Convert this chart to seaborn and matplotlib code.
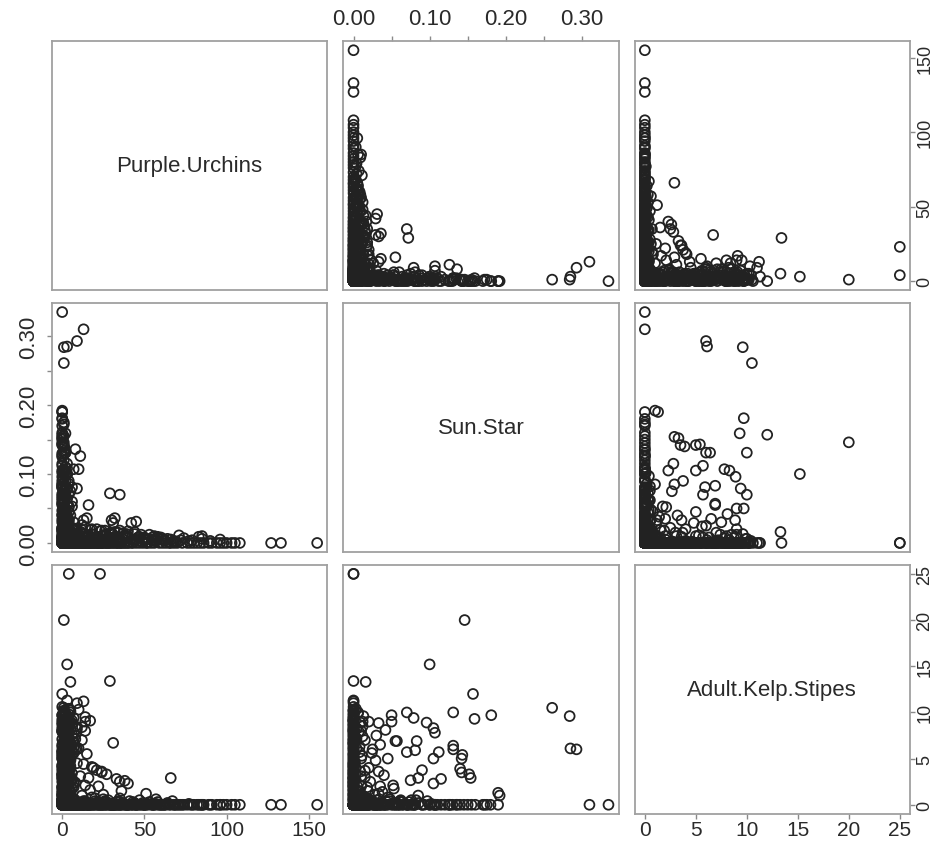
import pandas as pd
import matplotlib
matplotlib.use('Agg')
import matplotlib.pyplot as plt
import seaborn as sns

variables = ['Purple.Urchins', 'Sun.Star', 'Adult.Kelp.Stipes']

# quadrats with no sun stars and no kelp
bare_urchins = [0, 0, 0, 0, 0, 0, 1, 1, 1, 2, 2, 3, 3, 4, 5, 6, 7, 8, 9, 10,
                11, 13, 14, 16, 17, 19, 21, 22, 24, 26, 27, 29, 31, 33, 34, 36, 38, 40, 42, 43,
                45, 47, 49, 52, 54, 56, 59, 61, 63, 65, 68, 70, 73, 76, 78, 80, 82, 84, 86, 89,
                91, 94, 96, 98, 100, 103, 105, 108, 127, 133, 155]

# trace sun stars, no kelp
trace_urchins = [2, 5, 9, 13, 16, 22, 27, 31, 36, 40, 45, 50, 56, 62, 68, 74, 79, 85, 90, 96,
                 1, 4, 7, 11, 19, 24, 34, 44, 58, 71]
trace_sunstar = [0.010, 0.006, 0.012, 0.004, 0.009, 0.005, 0.011, 0.007, 0.003, 0.008,
                 0.006, 0.004, 0.010, 0.005, 0.003, 0.007, 0.004, 0.006, 0.003, 0.005,
                 0.014, 0.017, 0.013, 0.016, 0.012, 0.018, 0.015, 0.013, 0.009, 0.011]

# sun stars, no kelp
star_urchins = [0, 1, 0, 2, 1, 0, 3, 0, 1, 2,
                0, 1, 0, 2, 1, 0, 0, 1, 0, 2,
                0, 1, 0, 0, 1, 0, 0, 1, 0, 0,
                1, 0, 0, 5, 8, 10, 12, 15, 18, 20,
                25, 30, 35, 40, 45, 50, 55, 60, 85, 31,
                32, 15, 16, 29, 35, 9, 8, 11, 10, 4,
                6, 3, 5, 7, 42, 39, 83, 30, 29, 13,
                6, 7, 0, 13, 0, 2, 1]
star_sunstar = [0.005, 0.010, 0.015, 0.020, 0.025, 0.030, 0.035, 0.040, 0.045, 0.050,
                0.055, 0.060, 0.065, 0.070, 0.075, 0.080, 0.090, 0.100, 0.105, 0.110,
                0.115, 0.120, 0.125, 0.130, 0.140, 0.145, 0.150, 0.155, 0.160, 0.170,
                0.175, 0.180, 0.190, 0.010, 0.020, 0.005, 0.015, 0.010, 0.020, 0.005,
                0.010, 0.015, 0.005, 0.017, 0.031, 0.008, 0.005, 0.006, 0.010, 0.029,
                0.036, 0.036, 0.055, 0.072, 0.070, 0.079, 0.136, 0.126, 0.107, 0.090,
                0.060, 0.100, 0.040, 0.030, 0.029, 0.013, 0.009, 0.033, 0.014, 0.033,
                0.081, 0.107, 0.335, 0.310, 0.127, 0.135, 0.172]

# kelp, no sun stars
kelp_urchins = [0, 1, 0, 2, 0, 1, 0, 3, 0, 1,
                0, 2, 3, 1, 4, 2, 3, 1, 0, 2,
                4, 5, 0, 6, 0, 5, 0, 4, 2, 6,
                3, 7, 8, 5, 9, 7, 8, 6, 9, 7,
                10, 2, 4, 6, 3, 1, 5, 2, 1, 4,
                12, 14, 17, 20, 11, 13, 16, 10, 12, 14,
                9, 5, 3, 22, 25, 28, 19, 15, 24, 13,
                29, 31, 21, 27, 35, 40, 51, 66, 36, 38,
                33, 24, 18, 4, 23, 14, 12, 14, 17]
kelp_stipes = [1.1, 2.0, 3.2, 4.1, 5.0, 6.2, 7.1, 8.0, 9.2, 10.1,
               10.6, 0.9, 2.2, 2.9, 3.8, 5.3, 5.9, 6.8, 8.3, 9.0,
               9.8, 1.3, 1.8, 3.4, 4.3, 4.8, 6.5, 7.3, 7.7, 8.8,
               9.5, 0.6, 2.4, 3.0, 4.5, 5.6, 6.0, 7.6, 8.2, 9.4,
               10.3, 0.4, 1.5, 2.6, 3.6, 4.6, 6.7, 7.4, 8.6, 9.1,
               1.0, 2.1, 1.6, 0.7, 3.1, 4.4, 2.9, 6.1, 7.0, 9.0,
               11.0, 10.2, 11.3, 2.0, 1.1, 0.5, 4.0, 5.5, 3.5, 11.2,
               13.4, 6.7, 3.75, 3.3, 2.5, 2.3, 1.2, 2.9, 1.5, 2.6,
               2.8, 3.6, 4.1, 25.0, 25.0, 8.0, 8.4, 9.5, 9.1]

# sun stars and kelp together
mixed_urchins = [1, 3, 5, 0, 1, 2, 0, 1, 1, 3,
                 9, 2, 0, 1, 0, 0, 2, 1, 3, 0,
                 2, 1, 4, 2, 1, 3, 1, 2, 0, 4,
                 1, 0, 2, 5, 1, 3, 0, 6, 2, 4,
                 3, 1, 7, 1, 2, 0, 3, 1, 2, 0,
                 4, 1, 3, 2, 0, 5, 1, 2, 0, 1,
                 0, 2, 0, 1, 0, 3, 1, 4, 0, 2]
mixed_sunstar = [0.146, 0.100, 0.016, 0.157, 0.131, 0.159, 0.181, 0.261, 0.284, 0.285,
                 0.293, 0.131, 0.142, 0.142, 0.154, 0.192, 0.050, 0.070, 0.079, 0.096,
                 0.105, 0.107, 0.033, 0.042, 0.050, 0.055, 0.057, 0.083, 0.081, 0.070,
                 0.105, 0.112, 0.090, 0.075, 0.105, 0.115, 0.085, 0.053, 0.029, 0.033,
                 0.040, 0.024, 0.018, 0.010, 0.015, 0.020, 0.010, 0.025, 0.015, 0.010,
                 0.020, 0.030, 0.035, 0.012, 0.022, 0.008, 0.045, 0.035, 0.152, 0.140,
                 0.143, 0.131, 0.190, 0.052, 0.085, 0.013, 0.028, 0.045, 0.062, 0.038]
mixed_kelp = [20.0, 15.2, 13.3, 12.0, 10.0, 9.3, 9.7, 10.5, 9.6, 6.1,
              6.0, 6.0, 5.0, 3.5, 2.9, 1.0, 9.7, 10.0, 9.4, 8.9,
              8.3, 7.8, 8.85, 8.1, 9.0, 6.9, 6.9, 6.9, 5.9, 5.7,
              5.0, 5.7, 3.75, 2.65, 2.3, 2.8, 1.0, 1.75, 4.8, 3.6,
              3.2, 5.6, 1.9, 2.0, 3.0, 4.0, 5.0, 6.0, 7.0, 8.0,
              9.0, 7.5, 6.5, 8.5, 2.5, 1.5, 5.0, 2.0, 3.3, 3.9,
              5.4, 6.4, 1.3, 2.1, 2.9, 0.6, 1.1, 0.8, 0.5, 1.4]

# the crowded corner near zero
dense_urchins = [3, 6, 8, 12, 15, 18, 20, 23, 25, 28, 30, 33, 35, 38, 41, 44, 47, 50, 53, 57,
                 60, 64, 67, 72, 77, 1, 2, 4, 6, 9, 12, 14, 17, 21, 26, 32, 37, 48, 55, 66,
                 0, 1, 2, 3, 4, 5, 0, 1, 2, 3, 4, 5, 6, 0, 1, 2, 3, 0, 1, 2,
                 0, 3, 1, 4, 2, 5, 0, 6, 1, 3, 2, 0, 4, 1, 5, 2, 0, 3, 1, 0,
                 0, 1, 2, 3, 0, 1, 2, 4, 0, 1, 3, 0, 2, 1, 0, 4, 1, 2, 0, 3,
                 1, 0, 2, 0, 1, 3, 0, 2, 1, 0, 4, 0, 1, 2, 0, 1, 3, 0, 2, 1]
dense_sunstar = [0.004, 0.015, 0.008, 0.019, 0.002, 0.013, 0.006, 0.017, 0.010, 0.003,
                 0.014, 0.007, 0.018, 0.011, 0.002, 0.016, 0.009, 0.005, 0.012, 0.003,
                 0.008, 0.006, 0.002, 0.004, 0.003, 0.020, 0.024, 0.028, 0.022, 0.021,
                 0.026, 0.023, 0.019, 0.020, 0.018, 0.016, 0.014, 0.012, 0.008, 0.005,
                 0.0, 0.005, 0.0, 0.010, 0.003, 0.0, 0.008, 0.0, 0.012, 0.004,
                 0.0, 0.006, 0.014, 0.0, 0.002, 0.009, 0.0, 0.011, 0.004, 0.0,
                 0.007, 0.0, 0.013, 0.003, 0.0, 0.010, 0.005, 0.0, 0.015, 0.002,
                 0.0, 0.008, 0.004, 0.0, 0.012, 0.006, 0.0, 0.003, 0.009, 0.0,
                 0.022, 0.027, 0.031, 0.036, 0.041, 0.044, 0.048, 0.052, 0.057, 0.061,
                 0.064, 0.068, 0.073, 0.077, 0.082, 0.086, 0.093, 0.097, 0.102, 0.108,
                 0.003, 0.008, 0.012, 0.018, 0.024, 0.029, 0.034, 0.038, 0.043, 0.047,
                 0.053, 0.058, 0.063, 0.067, 0.071, 0.076, 0.012, 0.019, 0.006, 0.033]
dense_kelp = [0.3, 0.0, 0.5, 0.2, 0.0, 0.8, 0.4, 0.0, 0.6, 0.2, 0.0, 0.3, 0.7, 0.0, 0.4, 0.1, 0.5, 0.0, 0.3, 0.6,
              0.0, 0.2, 0.4, 0.0, 0.1, 0.0, 0.3, 0.0, 0.5, 0.2, 0.0, 0.4, 0.0, 0.1, 0.3, 0.0, 0.2, 0.0, 0.1, 0.0,
              0.5, 1.4, 2.3, 3.1, 4.0, 4.9, 5.7, 6.6, 7.4, 8.3, 9.2, 10.0, 0.8, 1.9, 2.7, 3.6, 4.4, 5.3, 6.1, 7.0,
              7.9, 8.7, 9.6, 10.4, 0.2, 1.1, 2.0, 2.8, 3.7, 4.6, 5.5, 6.3, 7.2, 8.1, 9.0, 9.9, 3.3, 6.9, 8.9, 4.2,
              0.2, 0.0, 0.5, 0.1, 0.0, 0.3, 0.6, 0.0, 0.2, 0.4, 0.0, 0.1, 0.3, 0.0, 0.5, 0.2, 0.0, 0.4, 0.1, 0.0,
              0.7, 0.3, 0.0, 0.5, 0.2, 0.0, 0.6, 0.1, 0.0, 0.4, 0.2, 0.0, 0.3, 0.1, 0.0, 0.5, 1.0, 1.5, 0.9, 1.2]

# more quadrats piled up at low urchin / low star / low kelp
pile_urchins = [0, 2, 4, 7, 10, 13, 16, 19, 22, 25, 28, 31, 34, 37, 40, 43, 46, 49, 52, 55,
                58, 1, 3, 5, 8, 11, 14, 17, 20, 23, 26, 29, 32, 35, 39, 44, 51, 57, 62, 69,
                0, 1, 2, 3, 4, 5, 6, 7, 8, 0, 1, 2, 3, 4, 5, 6, 7, 8, 0, 1,
                2, 3, 4, 5, 6, 7, 8, 0, 2, 4, 1, 3, 5, 7, 0, 2, 4, 6, 1, 3]
pile_sunstar = [0.002, 0.006, 0.010, 0.004, 0.008, 0.001, 0.011, 0.005, 0.009, 0.003,
                0.007, 0.012, 0.002, 0.006, 0.010, 0.004, 0.008, 0.001, 0.005, 0.003,
                0.007, 0.009, 0.003, 0.011, 0.006, 0.002, 0.010, 0.004, 0.008, 0.001,
                0.012, 0.005, 0.009, 0.003, 0.007, 0.002, 0.006, 0.004, 0.003, 0.002,
                0.0, 0.0, 0.0, 0.0, 0.0, 0.0, 0.0, 0.0, 0.0, 0.0, 0.0, 0.0, 0.0, 0.0, 0.0, 0.0, 0.0, 0.0, 0.0, 0.0,
                0.0, 0.0, 0.0, 0.0, 0.0, 0.0, 0.0, 0.0, 0.0, 0.0, 0.0, 0.0, 0.0, 0.0, 0.0, 0.0, 0.0, 0.0, 0.0, 0.0]
pile_kelp = [0.1, 0.0, 0.3, 0.0, 0.2, 0.4, 0.0, 0.1, 0.3, 0.0, 0.2, 0.0, 0.4, 0.1, 0.0, 0.3, 0.0, 0.2, 0.1, 0.0,
             0.3, 0.0, 0.2, 0.4, 0.0, 0.1, 0.3, 0.0, 0.2, 0.0, 0.4, 0.1, 0.0, 0.3, 0.0, 0.2, 0.0, 0.1, 0.0, 0.0,
             0.6, 1.7, 2.5, 3.4, 4.7, 5.1, 6.4, 7.8, 8.5, 9.7, 10.2, 0.3, 1.2, 2.8, 3.9, 5.4, 6.8, 7.1, 8.0, 9.3,
             0.9, 2.1, 3.0, 4.2, 5.8, 6.2, 7.5, 8.7, 9.9, 1.6, 4.5, 6.6, 8.2, 2.4, 3.7, 5.2, 7.9, 9.1, 0.7, 2.0]

urchin_ticks = [0, 50, 100, 150]
urchin_labels = ['0', '50', '100', '150']
sunstar_ticks = [0.0, 0.05, 0.10, 0.15, 0.20, 0.25, 0.30]
sunstar_labels = ['0.00', '', '0.10', '', '0.20', '', '0.30']
kelp_ticks = [0, 5, 10, 15, 20, 25]
kelp_labels = ['0', '5', '10', '15', '20', '25']

df = pd.concat([
    pd.DataFrame({'Purple.Urchins': bare_urchins, 'Sun.Star': 0.0, 'Adult.Kelp.Stipes': 0.0}),
    pd.DataFrame({'Purple.Urchins': trace_urchins, 'Sun.Star': trace_sunstar, 'Adult.Kelp.Stipes': 0.0}),
    pd.DataFrame({'Purple.Urchins': star_urchins, 'Sun.Star': star_sunstar, 'Adult.Kelp.Stipes': 0.0}),
    pd.DataFrame({'Purple.Urchins': kelp_urchins, 'Sun.Star': 0.0, 'Adult.Kelp.Stipes': kelp_stipes}),
    pd.DataFrame({'Purple.Urchins': mixed_urchins, 'Sun.Star': mixed_sunstar, 'Adult.Kelp.Stipes': mixed_kelp}),
    pd.DataFrame({'Purple.Urchins': dense_urchins, 'Sun.Star': dense_sunstar, 'Adult.Kelp.Stipes': dense_kelp}),
    pd.DataFrame({'Purple.Urchins': pile_urchins, 'Sun.Star': pile_sunstar, 'Adult.Kelp.Stipes': pile_kelp}),
], ignore_index=True)

sns.set_style('white')
plt.rcParams['font.family'] = ['Liberation Sans', 'DejaVu Sans']
plt.rcParams['xtick.labelsize'] = 16
plt.rcParams['ytick.labelsize'] = 16

g = sns.PairGrid(df, vars=variables, height=2.8, despine=False)
g.map_offdiag(sns.scatterplot, s=50, facecolor='none', edgecolor='#222222', linewidth=1.3)

g.figure.set_size_inches(9.35, 8.45)
g.figure.subplots_adjust(left=52/935, right=910/935, bottom=1-815/845, top=1-42/845,
                         wspace=16/276, hspace=12.5/250)

# R style 4% padding around the data range
lims = {}
for v in variables:
    lo, hi = df[v].min(), df[v].max()
    pad = 0.04 * (hi - lo)
    lims[v] = (lo - pad, hi + pad)

for i in range(3):
    for j in range(3):
        ax = g.axes[i, j]
        ax.set_xlabel('')
        ax.set_ylabel('')
        ax.set_xlim(lims[variables[j]])
        ax.set_ylim(lims[variables[i]])
        ax.tick_params(which='both', bottom=False, top=False, left=False, right=False,
                       labelbottom=False, labeltop=False, labelleft=False, labelright=False,
                       color='#8a8a8a', labelcolor='#2a2a2a', length=3.5, width=1)
        for sp in ax.spines.values():
            sp.set_color('#a0a0a0')
            sp.set_linewidth(1.3)

for i, name in enumerate(variables):
    g.axes[i, i].text(0.5, 0.5, name, transform=g.axes[i, i].transAxes,
                      ha='center', va='center', fontsize=16, color='#2a2a2a')

# x axes: bottom for columns 1 and 3, top for column 2
g.axes[2, 0].set_xticks(urchin_ticks, urchin_labels, fontsize=15)
g.axes[2, 0].tick_params(axis='x', bottom=True, labelbottom=True, pad=1)
g.axes[0, 1].set_xticks(sunstar_ticks, sunstar_labels)
g.axes[0, 1].tick_params(axis='x', top=True, labeltop=True, pad=5)
g.axes[2, 2].set_xticks(kelp_ticks, kelp_labels, fontsize=15)
g.axes[2, 2].tick_params(axis='x', bottom=True, labelbottom=True, pad=1)

# y axes: right for rows 1 and 3, left for row 2
g.axes[0, 2].set_yticks(urchin_ticks, urchin_labels, rotation=90, va='center', fontsize=13)
g.axes[0, 2].tick_params(axis='y', right=True, labelright=True, pad=1)
g.axes[1, 0].set_yticks(sunstar_ticks, sunstar_labels, rotation=90, va='center')
g.axes[1, 0].tick_params(axis='y', left=True, labelleft=True, pad=6)
g.axes[2, 2].set_yticks(kelp_ticks, kelp_labels, rotation=90, va='center', fontsize=13)
g.axes[2, 2].tick_params(axis='y', right=True, labelright=True, pad=1)

g.figure.savefig('out.png', dpi=100)
